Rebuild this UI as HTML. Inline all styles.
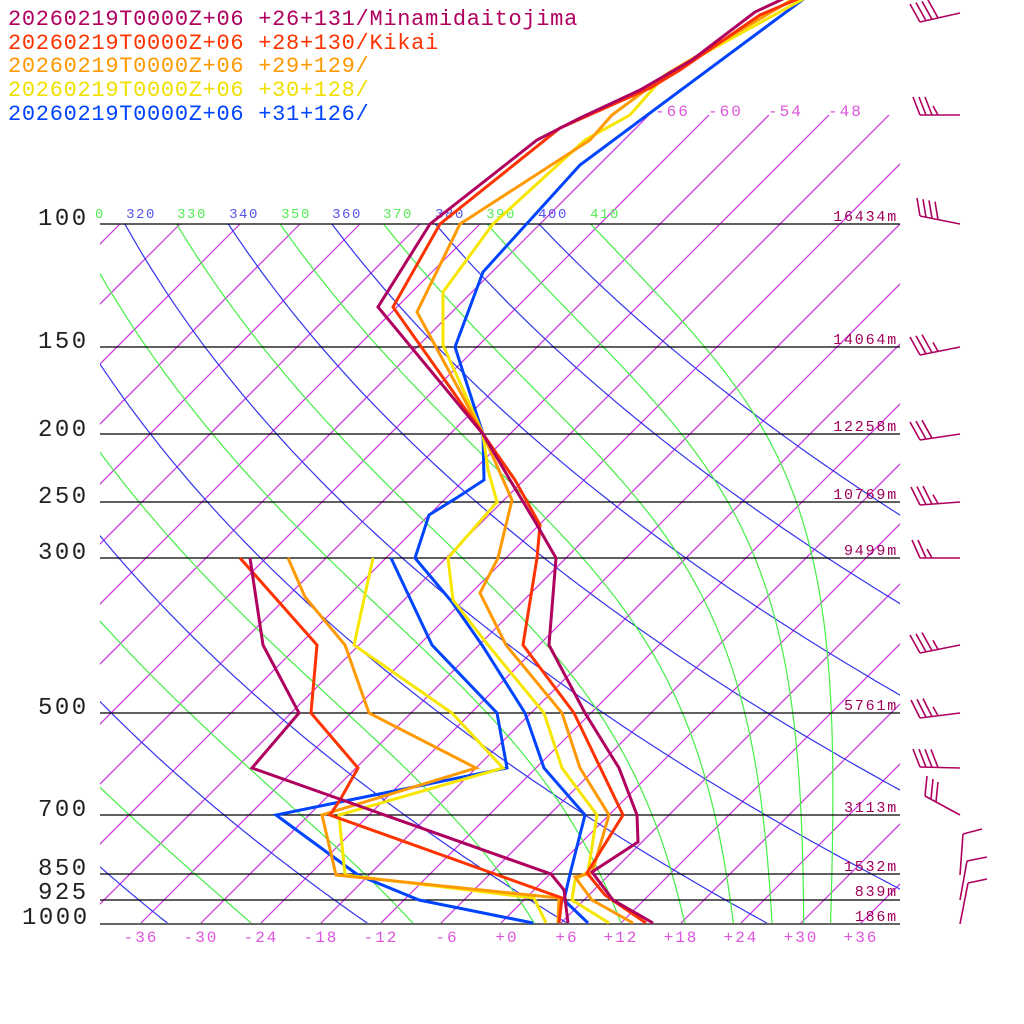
<!DOCTYPE html>
<html><head><meta charset="utf-8"><style>
html,body{margin:0;padding:0;background:#fff;}
svg{display:block;}
text{font-family:"Liberation Mono",monospace;}
</style></head><body>
<svg id="s" width="1024" height="1024" viewBox="0 0 1024 1024" xmlns="http://www.w3.org/2000/svg">
<defs>
<clipPath id="cp"><rect x="100" y="224" width="800" height="700"/></clipPath>
<clipPath id="cpi"><rect x="100" y="115" width="800" height="809"/></clipPath>
</defs>
<g id="grid"></g>
<g stroke="#000" stroke-width="1.3">
<line x1="100" y1="224" x2="900" y2="224"/><line x1="100" y1="347" x2="900" y2="347"/>
<line x1="100" y1="434" x2="900" y2="434"/><line x1="100" y1="502" x2="900" y2="502"/>
<line x1="100" y1="558" x2="900" y2="558"/><line x1="100" y1="713" x2="900" y2="713"/>
<line x1="100" y1="815" x2="900" y2="815"/><line x1="100" y1="874" x2="900" y2="874"/>
<line x1="100" y1="900" x2="900" y2="900"/><line x1="100" y1="924" x2="900" y2="924" stroke="#666" stroke-width="2"/>
</g>
<g font-size="24" fill="#222" letter-spacing="2.5">
<text x="38" y="225">100</text><text x="38" y="348">150</text><text x="38" y="436">200</text>
<text x="38" y="503">250</text><text x="38" y="559">300</text><text x="38" y="714">500</text>
<text x="38" y="816">700</text><text x="38" y="875">850</text><text x="38" y="899">925</text>
<text x="22" y="924">1000</text>
</g>
<g font-size="15" fill="#a0005a" text-anchor="end" letter-spacing="1.8">
<text x="898" y="221">16434m</text><text x="898" y="344">14064m</text><text x="898" y="431">12258m</text>
<text x="898" y="499">10769m</text><text x="898" y="555">9499m</text><text x="898" y="710">5761m</text>
<text x="898" y="812">3113m</text><text x="898" y="871">1532m</text><text x="898" y="896">839m</text>
<text x="898" y="921">186m</text>
</g>
<g font-size="16" fill="#dd55dd" text-anchor="middle" letter-spacing="2">
<text x="141" y="942">-36</text><text x="201" y="942">-30</text><text x="261" y="942">-24</text>
<text x="321" y="942">-18</text><text x="381" y="942">-12</text><text x="447" y="942">-6</text>
<text x="507" y="942">+0</text><text x="567" y="942">+6</text><text x="621" y="942">+12</text>
<text x="681" y="942">+18</text><text x="741" y="942">+24</text><text x="801" y="942">+30</text>
<text x="861" y="942">+36</text>
</g>
<g font-size="16" fill="#dd55dd" letter-spacing="2">
<text x="655" y="116">-66</text><text x="708" y="116">-60</text><text x="768" y="116">-54</text><text x="828" y="116">-48</text>
</g>
<g font-size="14" text-anchor="middle" letter-spacing="1.5">
<text x="100" y="218" fill="#55ee55">0</text>
<text x="141" y="218" fill="#5555ee">320</text><text x="192" y="218" fill="#55ee55">330</text>
<text x="244" y="218" fill="#5555ee">340</text><text x="296" y="218" fill="#55ee55">350</text>
<text x="347" y="218" fill="#5555ee">360</text><text x="398" y="218" fill="#55ee55">370</text>
<text x="450" y="218" fill="#5555ee">380</text><text x="501" y="218" fill="#55ee55">390</text>
<text x="553" y="218" fill="#5555ee">400</text><text x="605" y="218" fill="#55ee55">410</text>
</g>
<g fill="none" stroke-width="3" stroke-linejoin="miter">
<polyline stroke="#0044ff" points="805,-2 580,165 483,272 455,347 483,434 484,480 458,497 429,515 415,558 452,602 482,645 525,713 544,768 585,815 570,874 564,900 588,923"/>
<polyline stroke="#0044ff" points="391,558 432,645 497,713 507,768 276,815 358,875 419,900 533,923"/>
<polyline stroke="#f7e600" points="805,-2 665,75 630,115 585,140 493,224 443,292 443,345 483,434 488,470 497,502 448,558 453,600 488,645 544,713 562,768 597,815 588,872 575,880 572,900 609,923"/>
<polyline stroke="#f7e600" points="373,558 354,645 452,713 503,768 339,815 345,875 534,898 546,923"/>
<polyline stroke="#ff9900" points="795,-2 670,72 612,115 590,140 460,224 417,312 483,434 512,500 498,558 480,593 506,645 562,713 580,768 609,815 592,873 575,877 592,900 633,923"/>
<polyline stroke="#ff9900" points="288,558 305,597 345,645 369,713 476,768 322,815 336,875 559,898 558,923"/>
<polyline stroke="#ff3300" points="800,-2 760,15 680,70 650,88 560,128 440,224 393,307 483,434 515,480 540,525 537,558 523,645 574,713 623,815 587,873 605,895 646,923"/>
<polyline stroke="#ff3300" points="240,558 317,645 311,713 358,768 340,800 330,815 562,898 559,923"/>
<polyline stroke="#b0005f" points="785,-2 755,12 692,60 640,90 580,118 537,140 430,224 378,307 483,434 510,480 537,525 556,558 549,645 585,713 619,768 637,815 638,842 592,872 613,900 653,923"/>
<polyline stroke="#b0005f" points="250,558 263,645 299,713 252,768 551,874 564,890 568,923"/>
</g>
<g font-size="22" letter-spacing="0.7">
<text x="8" y="25" fill="#b0005f">20260219T0000Z+06 +26+131/Minamidaitojima</text>
<text x="8" y="49" fill="#ff3300">20260219T0000Z+06 +28+130/Kikai</text>
<text x="8" y="72" fill="#ff9900">20260219T0000Z+06 +29+129/</text>
<text x="8" y="96" fill="#f0e000">20260219T0000Z+06 +30+128/</text>
<text x="8" y="120" fill="#0044ff">20260219T0000Z+06 +31+126/</text>
</g>
<g id="barbs" stroke="#b0005f" stroke-width="1.6" fill="none"></g>
</svg>
<script>
var NS="http://www.w3.org/2000/svg";
function Y(p){return 924-304*Math.log(1000/p);}
function X(T,y){return 500+10*T+(924-y);}
var g=document.getElementById("grid");
function pl(pts,col,clip){var e=document.createElementNS(NS,"polyline");e.setAttribute("points",pts.map(function(a){return a[0].toFixed(1)+","+a[1].toFixed(1);}).join(" "));e.setAttribute("fill","none");e.setAttribute("stroke",col);e.setAttribute("stroke-width","1.2");e.setAttribute("clip-path","url(#"+clip+")");g.appendChild(e);}
for(var T=-120;T<=60;T+=6){var y0=(T>=-66)?115:224;pl([[X(T,y0),y0],[X(T,924),924]],"#cc33dd","cpi");}
for(var th=200;th<=400;th+=20){var pts=[];for(var p=90;p<=1010;p+=5){var y=Y(p);var Tk=th*Math.pow(p/1000,0.286);pts.push([X(Tk-273.15,y),y]);}pl(pts,"#3333ee","cp");}
function es(Tc){return 6.112*Math.exp(17.67*Tc/(Tc+243.5));}
for(var th=210;th<=410;th+=20){var Tk=th*Math.pow(0.1,0.286);var lp=Math.log(100);var pts=[];var dl=0.005;
 while(lp<=Math.log(1010)){var p=Math.exp(lp);var e=es(Tk-273.15);var rs=0.622*e/Math.max(p-e,1);
  var d=(287*Tk+2.5e6*rs)/(1005+2.5e6*2.5e6*rs*0.622/(287*Tk*Tk));
  var y=Y(p);pts.push([X(Tk-273.15,y),y]);Tk+=d*dl;lp+=dl;}
 pl(pts,"#44ee44","cp");}
var b=document.getElementById("barbs");
function L(x1,y1,x2,y2){var e=document.createElementNS(NS,"line");e.setAttribute("x1",x1);e.setAttribute("y1",y1);e.setAttribute("x2",x2);e.setAttribute("y2",y2);b.appendChild(e);}
function barb(yE,yS,n,half,dx){
 L(960,yE,920,yS);
 for(var i=0;i<n;i++){var t=i*6;var bx=920+t,by=yS+(yE-yS)*t/40;L(bx,by,bx-(dx||10),by-18);}
 if(half){var t=n*6;var bx=920+t,by=yS+(yE-yS)*t/40;L(bx,by,bx-5,by-9);}
}
barb(13,22,4,0,10);barb(115,115,3,1,7);barb(224,216,4,0,3);barb(347,355,3,1,10);barb(434,440,3,0,10);
barb(502,505,3,1,9);barb(558,558,2,1,8);barb(645,653,3,1,10);barb(713,718,3,1,9);barb(768,767,4,0,7);
L(960,815,925,796);L(925,796,927,776);L(931,799,933,779);L(936,802,938,782);
L(960,875,963,834);L(963,834,982,829);
L(960,900,967,861);L(967,861,987,857);
L(960,924,968,883);L(968,883,987,879);
</script>
</body></html>
